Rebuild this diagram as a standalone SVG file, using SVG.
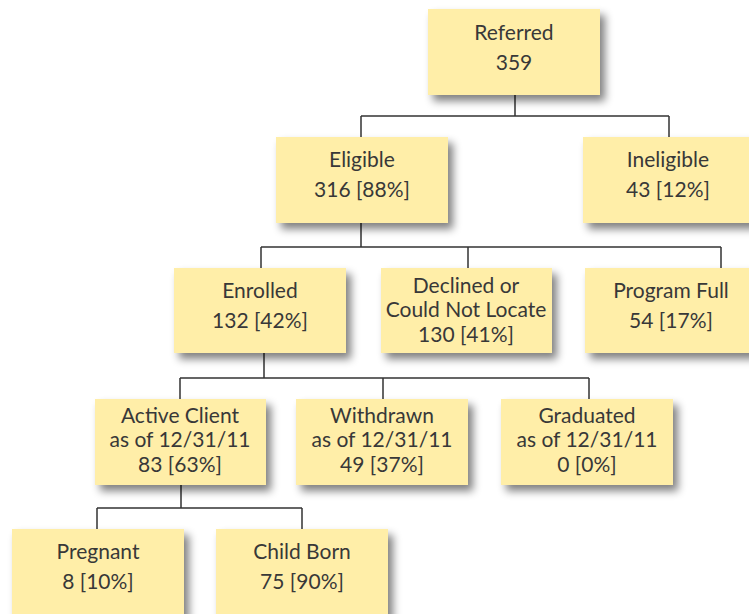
<svg xmlns="http://www.w3.org/2000/svg" width="749" height="614" viewBox="0 0 749 614">
<defs>
<filter id="sh" x="-20%" y="-20%" width="150%" height="160%">
<feGaussianBlur in="SourceAlpha" stdDeviation="4"/>
<feOffset dx="5" dy="6" result="b"/>
<feComponentTransfer><feFuncA type="linear" slope="0.5"/></feComponentTransfer>
<feMerge><feMergeNode/><feMergeNode in="SourceGraphic"/></feMerge>
</filter>
</defs>
<style>
.box{fill:#FFEEA8;filter:url(#sh)}
.t{font-family:Lato,"Open Sans",sans-serif;font-size:21px;fill:#383838;text-anchor:middle}
.c{stroke:#333;stroke-width:1.5;fill:none}
</style>
<rect width="749" height="614" fill="#fff"/>
<g id="connectors">
<path class="c" d="M515 95V116M361 116H669M361 116V137M669 116V137"/>
<path class="c" d="M361 222V247M261 247H721M261 247V268M468 247V268M721 247V268"/>
<path class="c" d="M264 353V378M180 378H589M180 378V399M383 378V399M589 378V399"/>
<path class="c" d="M181 485V508M97 508H302M97 508V529M302 508V529"/>
</g>
<g id="referred"><rect class="box" x="428" y="9" width="172" height="86"/><text class="t" x="514" y="40">Referred</text><text class="t" x="514" y="70">359</text></g>
<g id="eligible"><rect class="box" x="276" y="137" width="172" height="86"/><text class="t" x="362" y="167">Eligible</text><text class="t" x="362" y="197">316 [88%]</text></g>
<g id="ineligible"><rect class="box" x="583" y="137" width="172" height="86"/><text class="t" x="668" y="167">Ineligible</text><text class="t" x="668" y="197">43 [12%]</text></g>
<g id="enrolled"><rect class="box" x="174" y="268" width="172" height="85"/><text class="t" x="260" y="298">Enrolled</text><text class="t" x="260" y="328">132 [42%]</text></g>
<g id="declined"><rect class="box" x="381" y="268" width="171" height="85"/><text class="t" x="466" y="293">Declined or</text><text class="t" x="466" y="317">Could Not Locate</text><text class="t" x="466" y="342">130 [41%]</text></g>
<g id="programfull"><rect class="box" x="585" y="268" width="172" height="85"/><text class="t" x="671" y="298">Program Full</text><text class="t" x="671" y="328">54 [17%]</text></g>
<g id="active"><rect class="box" x="95" y="399" width="171" height="86"/><text class="t" x="180" y="423">Active Client</text><text class="t" x="180" y="447">as of 12/31/11</text><text class="t" x="180" y="472">83 [63%]</text></g>
<g id="withdrawn"><rect class="box" x="296" y="399" width="172" height="86"/><text class="t" x="382" y="423">Withdrawn</text><text class="t" x="382" y="447">as of 12/31/11</text><text class="t" x="382" y="472">49 [37%]</text></g>
<g id="graduated"><rect class="box" x="501" y="399" width="172" height="86"/><text class="t" x="587" y="423">Graduated</text><text class="t" x="587" y="447">as of 12/31/11</text><text class="t" x="587" y="472">0 [0%]</text></g>
<g id="pregnant"><rect class="box" x="12" y="529" width="172" height="90"/><text class="t" x="98" y="559">Pregnant</text><text class="t" x="98" y="589">8 [10%]</text></g>
<g id="childborn"><rect class="box" x="216" y="529" width="172" height="90"/><text class="t" x="302" y="559">Child Born</text><text class="t" x="302" y="589">75 [90%]</text></g>
</svg>
